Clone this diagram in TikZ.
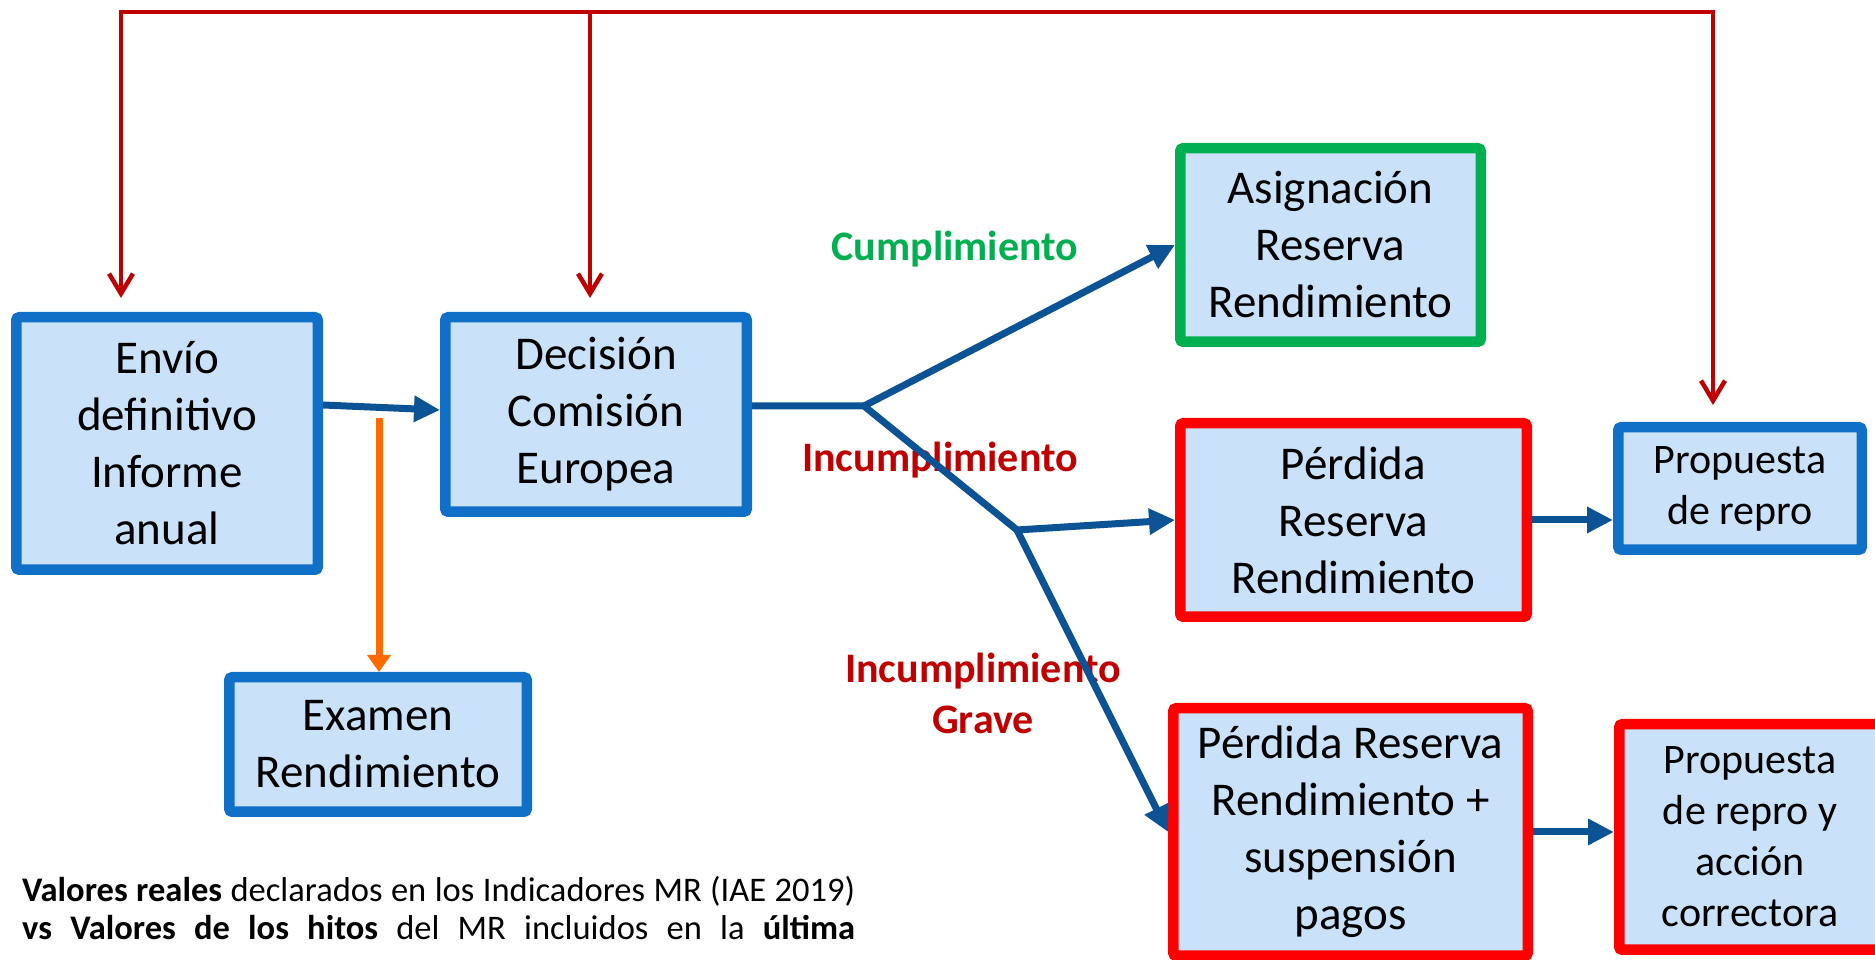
\documentclass[tikz,border=0pt]{standalone}
\usepackage{fontspec}
\setmainfont{Carlito}
\usetikzlibrary{positioning,calc,arrows.meta}

\definecolor{boxfill}{HTML}{C9E2F9}
\definecolor{boxblue}{HTML}{1070C8}
\definecolor{flowblue}{HTML}{0B5394}
\definecolor{okgreen}{HTML}{00B050}
\definecolor{kored}{HTML}{FF0000}
\definecolor{darkred}{HTML}{C00000}
\definecolor{examorange}{HTML}{FF6A00}

\tikzset{
    flowtip/.tip={Triangle[length=26pt,width=25pt]},
    fbtip/.tip={Straight Barb[length=20pt,width=24pt]},
    box/.style={rectangle, draw, line width=10.5pt, fill=boxfill, rounded corners=3pt, align=center, inner sep=0pt, font=\fontsize{47pt}{57pt}\selectfont},
    bluebox/.style={box, draw=boxblue},
    greenbox/.style={box, draw=okgreen},
    redbox/.style={box, draw=kored},
    smalltext/.style={font=\fontsize{42pt}{51pt}\selectfont},
    flow/.style={draw=flowblue, line width=7pt},
    feedback/.style={draw=darkred, line width=4.5pt},
    verdict/.style={font=\bfseries\fontsize{42pt}{51pt}\selectfont, align=center, inner sep=0pt}
}

\begin{document}
\begin{tikzpicture}[x=1pt, y=1pt, node distance=80pt]
    \useasboundingbox (0,0) rectangle (1875,960);

    % Report and Commission decision on the left
    \node [bluebox, minimum width=301.5pt, minimum height=252.5pt] (envio) at (167,516.5) {Envío\\definitivo\\Informe\\anual};

    \node [bluebox, minimum width=301.5pt, minimum height=194.5pt, right=117pt of envio.north east, anchor=north west] (decision) {Decisión\\Comisión\\Europea};

    \node [bluebox, minimum width=297.5pt, minimum height=134.5pt, below=97pt of envio.south west, xshift=213pt, anchor=north west] (examen) {Examen\\Rendimiento};

    % Outcomes of the decision
    \node [greenbox, minimum width=300.5pt, minimum height=193.5pt, above right=169pt and 423pt of decision.north east, anchor=north west] (asignacion) {Asignación\\Reserva\\Rendimiento};

    \node [redbox, minimum width=346.5pt, minimum height=193.5pt, below=71pt of asignacion.south west, anchor=north west] (perdida) {Pérdida\\Reserva\\Rendimiento};

    \node [redbox, minimum width=354.5pt, minimum height=247.5pt, below=81pt of perdida.south west, xshift=-7pt, anchor=north west] (suspension) {Pérdida Reserva\\Rendimiento +\\suspensión\\pagos};

    % Reprogramming proposals on the right
    \node [bluebox, smalltext, minimum width=243.5pt, minimum height=122.5pt, right=81pt of perdida.north east, yshift=-4pt, anchor=north west] (repro) {Propuesta\\de repro};

    \node [redbox, smalltext, minimum width=261.5pt, minimum height=225.5pt, right=81pt of suspension.north east, yshift=-16pt, anchor=north west] (accion) {Propuesta\\de repro y\\acción\\correctora};

    % Branch points
    \coordinate [right=112pt of decision.east, yshift=8.5pt] (split);
    \coordinate [below right=124pt and 153pt of split] (split2);

    % Branch labels (under the lines)
    \node [verdict, text=okgreen] (cumple) at ([xshift=91pt, yshift=157pt]split) {Cumplimiento};
    \node [verdict, text=darkred] (incumple) at ([xshift=76pt, yshift=-54pt]split) {Incumplimiento};
    \node [verdict, text=darkred] (grave) at ([xshift=-34pt, yshift=-163.5pt]split2) {Incumplimiento\\Grave};

    % Main flow (blue)
    \draw [flow, -flowtip] ([yshift=38.5pt]envio.east) -- ([yshift=4.5pt]decision.west);
    \draw [flow] (decision.east |- split) -- (split) -- (split2);
    \draw [flow, -flowtip] (split) -- (asignacion.west);
    \draw [flow, -flowtip] (split2) -- (perdida.west);
    \draw [flow, -flowtip] (split2) -- (suspension.west);
    \draw [flow, -flowtip] (perdida.east) -- (perdida.east -| repro.west);
    \draw [flow, -flowtip] (suspension.east) -- (suspension.east -| accion.west);

    % Performance review (orange)
    \coordinate [above=254pt of examen.north, xshift=1pt] (orange-start);
    \draw [examorange, line width=7pt, -{Triangle[length=17pt,width=23pt]}] (orange-start) -- (orange-start |- examen.north);

    % Feedback lines (red)
    \coordinate [above=14pt of envio.north, xshift=-46pt] (tip-envio);
    \coordinate [above=14pt of decision.north, xshift=-6pt] (tip-decision);
    \coordinate [above=17pt of repro.north, xshift=-27pt] (tip-repro);
    \coordinate (top) at (0,948);
    \draw [feedback, fbtip-fbtip] (tip-envio) |- (top -| tip-repro) -- (tip-repro);
    \draw [feedback, -fbtip] (tip-decision |- top) -- (tip-decision);

    % Note at the bottom
    \node [anchor=west, align=left, inner sep=0pt, font=\fontsize{34.5pt}{38pt}\selectfont] (nota) at (22,52) {%
        \makebox[833pt][s]{\textbf{Valores reales} declarados en los Indicadores MR (IAE 2019)}\\
        \makebox[833pt][s]{\textbf{vs Valores de los hitos} del MR incluidos en la \textbf{última}}};

\end{tikzpicture}
\end{document}
